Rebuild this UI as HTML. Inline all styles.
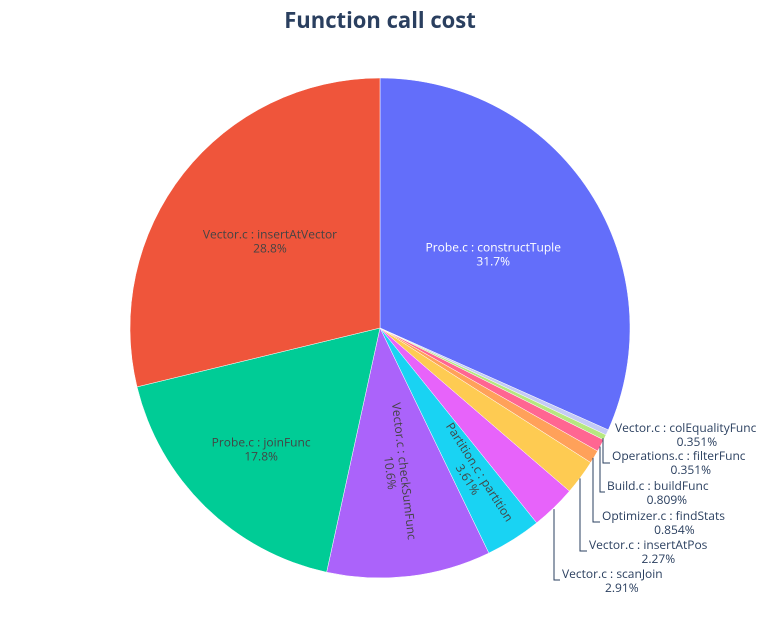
<!DOCTYPE html>
<html><head><meta charset="utf-8"><style>
body{margin:0;background:#fff;}
svg{display:block;font-family:"Open Sans","Liberation Sans",sans-serif;}
</style></head><body>
<svg id="chart" width="781" height="619">
<text x="380" y="28" text-anchor="middle" font-size="22" font-weight="bold" fill="#2a3f5f">Function call cost</text>
<g id="slices"></g><g id="labels"></g>
</svg>
<script>
const names=["Probe.c : constructTuple","Vector.c : colEqualityFunc","Operations.c : filterFunc","Build.c : buildFunc","Optimizer.c : findStats","Vector.c : insertAtPos","Vector.c : scanJoin","Partition.c : partition","Vector.c : checkSumFunc","Probe.c : joinFunc","Vector.c : insertAtVector"];
const values=[31.7,0.351,0.351,0.809,0.854,2.27,2.91,3.61,10.6,17.8,28.8];
const pctLabels=["31.7%","0.351%","0.351%","0.809%","0.854%","2.27%","2.91%","3.61%","10.6%","17.8%","28.8%"];
const colors=["#636efa","#c5cbf5","#b6e880","#ff6692","#ffa15a","#fecb52","#e763fa","#19d3f3","#ab63fa","#00cc96","#ef553b"];
const cx=380,cy=328,R=250;
const NS="http://www.w3.org/2000/svg";
const total=values.reduce((a,b)=>a+b,0);
const gS=document.getElementById('slices'),gL=document.getElementById('labels');
function pt(a,r){return [cx+r*Math.sin(a),cy-r*Math.cos(a)];}
let cum=0;
const mids=[];
values.forEach((v,i)=>{
 const a0=cum/total*2*Math.PI;cum+=v;const a1=cum/total*2*Math.PI;
 mids.push((a0+a1)/2);
 const p0=pt(a0,R),p1=pt(a1,R);
 const p=document.createElementNS(NS,'path');
 p.setAttribute('d',`M${cx},${cy}L${p0[0]},${p0[1]}A${R},${R} 0 ${a1-a0>Math.PI?1:0} 1 ${p1[0]},${p1[1]}Z`);
 p.setAttribute('fill',colors[i]);p.setAttribute('stroke','#fff');p.setAttribute('stroke-width','0.5');
 
 
 gS.appendChild(p);
});
function txt(x,y,s,fill,anchor,extra){const t=document.createElementNS(NS,'text');t.setAttribute('x',x);t.setAttribute('y',y);t.setAttribute('font-size','12');t.setAttribute('fill',fill);t.setAttribute('text-anchor',anchor||'middle');if(extra)t.setAttribute('transform',extra);t.textContent=s;
 
 
 gL.appendChild(t);return t;}
const inside={0:0.54,8:0.58,9:0.68,10:0.56,7:0.7};
Object.keys(inside).forEach(k=>{
 const i=+k,a=mids[i];const [x,y]=pt(a,R*inside[k]);
 const fill=i===0?'#fff':'#444';
 let rot='';
 if(i===7||i===8){rot=`rotate(${a*180/Math.PI-90},${x},${y})`;}
 txt(x,y-3,names[i],fill,'middle',rot);txt(x,y+11,pctLabels[i],fill,'middle',rot);
});
const outLbl=[[1,615,428,null],[2,612,456,[603,463]],[3,607,486,[600,492]],[4,602,516,[593,522]],[5,589,545,[580,551]],[6,562,574,[554,580]]];
outLbl.forEach(([i,lx,ly,c])=>{
 const a=mids[i];const [ex,ey]=pt(a,R+2);
 if(c){const l=document.createElementNS(NS,'polyline');
  l.setAttribute('points',`${c[0]},${ey} ${c[0]},${c[1]} ${lx-2},${c[1]}`);
  l.setAttribute('fill','none');l.setAttribute('stroke','#2a3f5f');l.setAttribute('stroke-width','1');
  
  
  gL.appendChild(l);}
 const w=names[i].length*6.3;
 txt(lx,ly+4,names[i],'#2a3f5f','start');txt(lx+w/2,ly+18,pctLabels[i],'#2a3f5f','middle');
});
</script>
</body></html>
